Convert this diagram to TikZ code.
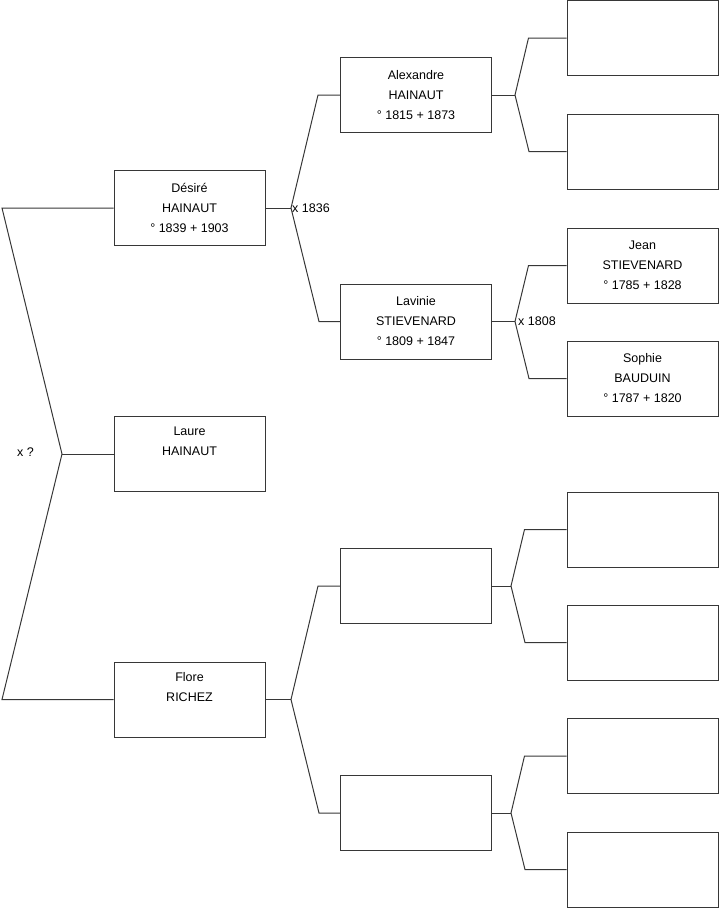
\documentclass[tikz,border=0pt]{standalone}
\usepackage{fontspec}
\setmainfont{Liberation Sans}
\begin{document}
\begin{tikzpicture}[x=1pt,y=-1pt,
    person/.style={draw=lineC,line width=1pt,minimum width=151pt,minimum height=75pt,inner sep=0pt,align=center,font=\fontsize{12.5}{20}\selectfont},
    link/.style={draw=lineC,line width=1pt},
    mariage/.style={anchor=west,inner sep=1pt,font=\fontsize{12.5}{14}\selectfont}]
    \definecolor{lineC}{RGB}{55,55,55}
    \useasboundingbox (0,0) rectangle (719,908);
    % enfants
    \node[person] (desire) at (189.5,208) {Désiré\\HAINAUT\\° 1839 + 1903};
    \node[person] (laure) at (189.5,454) {Laure\\HAINAUT\\\strut};
    \node[person] (flore) at (189.5,699.5) {Flore\\RICHEZ\\\strut};
    % parents
    \node[person] (alexandre) at (416,95) {Alexandre\\HAINAUT\\° 1815 + 1873};
    \node[person] (lavinie) at (416,321.5) {Lavinie\\STIEVENARD\\° 1809 + 1847};
    \node[person] (pereF) at (416,586) {};
    \node[person] (mereF) at (416,813) {};
    % grands-parents
    \node[person] (pereA) at (642.5,38) {};
    \node[person] (mereA) at (642.5,151.5) {};
    \node[person] (jean) at (642.5,265.5) {Jean\\STIEVENARD\\° 1785 + 1828};
    \node[person] (sophie) at (642.5,378.5) {Sophie\\BAUDUIN\\° 1787 + 1820};
    \node[person] (pereFp) at (642.5,529.5) {};
    \node[person] (mereFp) at (642.5,642.5) {};
    \node[person] (pereFm) at (642.5,756) {};
    \node[person] (mereFm) at (642.5,869.5) {};
    % liens
    \coordinate (bordD) at (2,208);
    \coordinate (bordF) at (2,699.5);
    \coordinate (j0) at (62,454);
    \draw[link] (desire.west) -- (bordD) -- (j0) -- (bordF) -- (flore.west);
    \draw[link] (j0) -- (laure.west);
    \node[mariage] (x0) at (16,452) {x ?};
    \coordinate (jD) at (291,208);
    \draw[link] (desire.east) -- (jD);
    \draw[link] (alexandre.west) -- ++(-22,0) -- (jD) -- (lavinie.west -| 319,0) -- (lavinie.west);
    \node[mariage] (x1836) at (291,208) {x 1836};
    \coordinate (jF) at (291,699.5);
    \draw[link] (flore.east) -- (jF);
    \draw[link] (pereF.west) -- ++(-22,0) -- (jF) -- (mereF.west -| 319,0) -- (mereF.west);
    \coordinate (jA) at (515,95);
    \draw[link] (alexandre.east) -- (jA);
    \draw[link] (pereA.west) -- ++(-38,0) -- (jA) -- (mereA.west -| 529,0) -- (mereA.west);
    \coordinate (jL) at (515,321.5);
    \draw[link] (lavinie.east) -- (jL);
    \draw[link] (jean.west) -- ++(-38,0) -- (jL) -- (sophie.west -| 529,0) -- (sophie.west);
    \node[mariage] (x1808) at (517,321) {x 1808};
    \coordinate (jPF) at (511,586);
    \draw[link] (pereF.east) -- (jPF);
    \draw[link] (pereFp.west) -- ++(-42,0) -- (jPF) -- (mereFp.west -| 525,0) -- (mereFp.west);
    \coordinate (jMF) at (511,813);
    \draw[link] (mereF.east) -- (jMF);
    \draw[link] (pereFm.west) -- ++(-42,0) -- (jMF) -- (mereFm.west -| 525,0) -- (mereFm.west);
\end{tikzpicture}
\end{document}
